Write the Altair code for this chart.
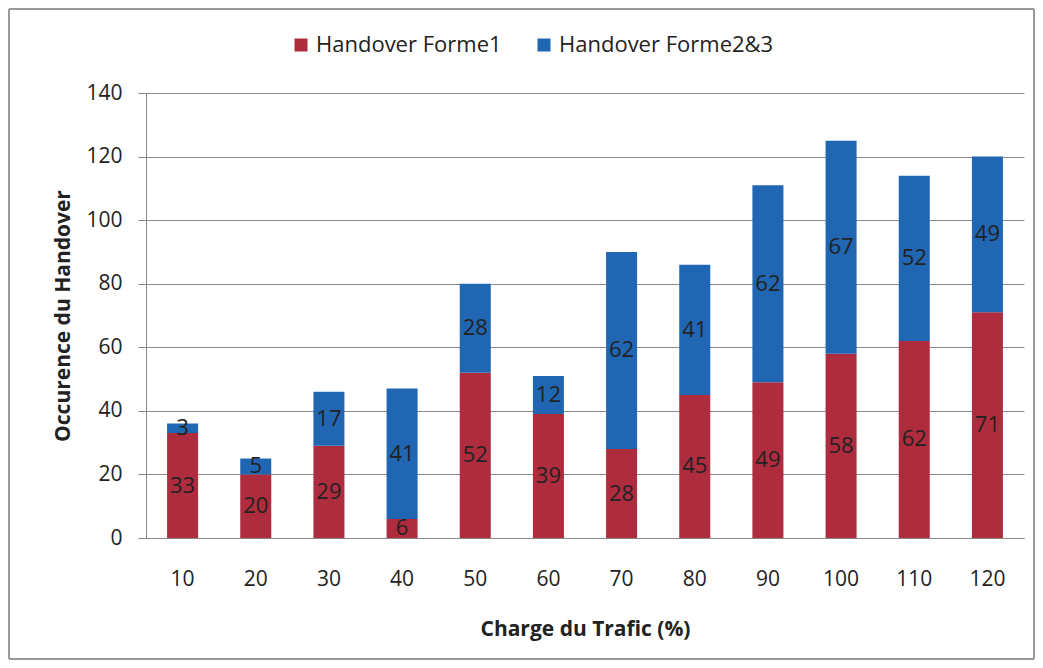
import altair as alt
import pandas as pd

charges = [10, 20, 30, 40, 50, 60, 70, 80, 90, 100, 110, 120]
forme1 = [33, 20, 29, 6, 52, 39, 28, 45, 49, 58, 62, 71]
forme23 = [3, 5, 17, 41, 28, 12, 62, 41, 62, 67, 52, 49]
series = ["Handover Forme1", "Handover Forme2&3"]
colors = ["#AE2C3D", "#2166B2"]

rows = []
for c, a, b in zip(charges, forme1, forme23):
    rows.append({"charge": str(c), "serie": series[0], "val": a, "ord": 0})
    rows.append({"charge": str(c), "serie": series[1], "val": b, "ord": 1})
df = pd.DataFrame(rows)

FONT = "Open Sans"
xorder = [str(c) for c in charges]
xenc = alt.X("charge:N", sort=xorder,
             scale=alt.Scale(paddingInner=0.576, paddingOuter=0.288),
             axis=alt.Axis(title="Charge du Trafic (%)", labelAngle=0, ticks=False,
                           labelPadding=30, titlePadding=29, domainColor="#888888"))

base = alt.Chart(df).transform_stack(
    stack="val", groupby=["charge"], as_=["y0", "y1"],
    sort=[alt.SortField("ord", order="ascending")]
).transform_calculate(mid="(datum.y0 + datum.y1) / 2")

bars = base.mark_bar().encode(
    x=xenc,
    y=alt.Y("y0:Q", scale=alt.Scale(domain=[0, 140]),
            axis=alt.Axis(title="Occurence du Handover", values=list(range(0, 141, 20)),
                          tickSize=8, tickColor="#888888", domainColor="#888888",
                          gridColor="#8a8a8a", labelPadding=16, titlePadding=12)),
    y2="y1:Q",
    color=alt.Color("serie:N", scale=alt.Scale(domain=series, range=colors),
                    legend=alt.Legend(title=None, orient="none", direction="horizontal",
                                      legendX=144, legendY=-59, symbolType="square",
                                      symbolSize=169, symbolStrokeWidth=0,
                                      labelFontSize=22, labelFont=FONT, labelColor="#222222",
                                      labelLimit=0, columnPadding=31, labelOffset=4)),
)

labels = base.mark_text(fontSize=22, font=FONT, color="#222222").encode(
    x=alt.X("charge:N", sort=xorder),
    y=alt.Y("mid:Q"),
    text="val:Q",
)

frame_df = pd.DataFrame({"k": [0]})
frame_col = "#999999"
FL, FR, FT, FB = -137, 888, -84, 566
top = alt.Chart(frame_df).mark_rule(color=frame_col, strokeWidth=2).encode(
    x=alt.value(FL), x2=alt.value(FR), y=alt.value(FT), y2=alt.value(FT))
bottom = alt.Chart(frame_df).mark_rule(color=frame_col, strokeWidth=2).encode(
    x=alt.value(FL), x2=alt.value(FR), y=alt.value(FB), y2=alt.value(FB))
left = alt.Chart(frame_df).mark_rule(color=frame_col, strokeWidth=2).encode(
    x=alt.value(FL), x2=alt.value(FL), y=alt.value(FT), y2=alt.value(FB))
right = alt.Chart(frame_df).mark_rule(color=frame_col, strokeWidth=2).encode(
    x=alt.value(FR), x2=alt.value(FR), y=alt.value(FT), y2=alt.value(FB))

chart = alt.layer(bars, labels, top, bottom, left, right).properties(
    width=878, height=445,
    autosize=alt.AutoSizeParams(type="none"),
    padding={"left": 138, "top": 85, "right": 11, "bottom": 122},
).configure_axis(
    labelFont=FONT, labelFontSize=21, labelColor="#222222",
    titleFont=FONT, titleFontSize=21, titleFontWeight="bold", titleColor="#222222",
).configure_axisX(grid=False).configure_view(stroke=None)

chart.save("out.html", embed_options={"renderer": "svg", "actions": False})
